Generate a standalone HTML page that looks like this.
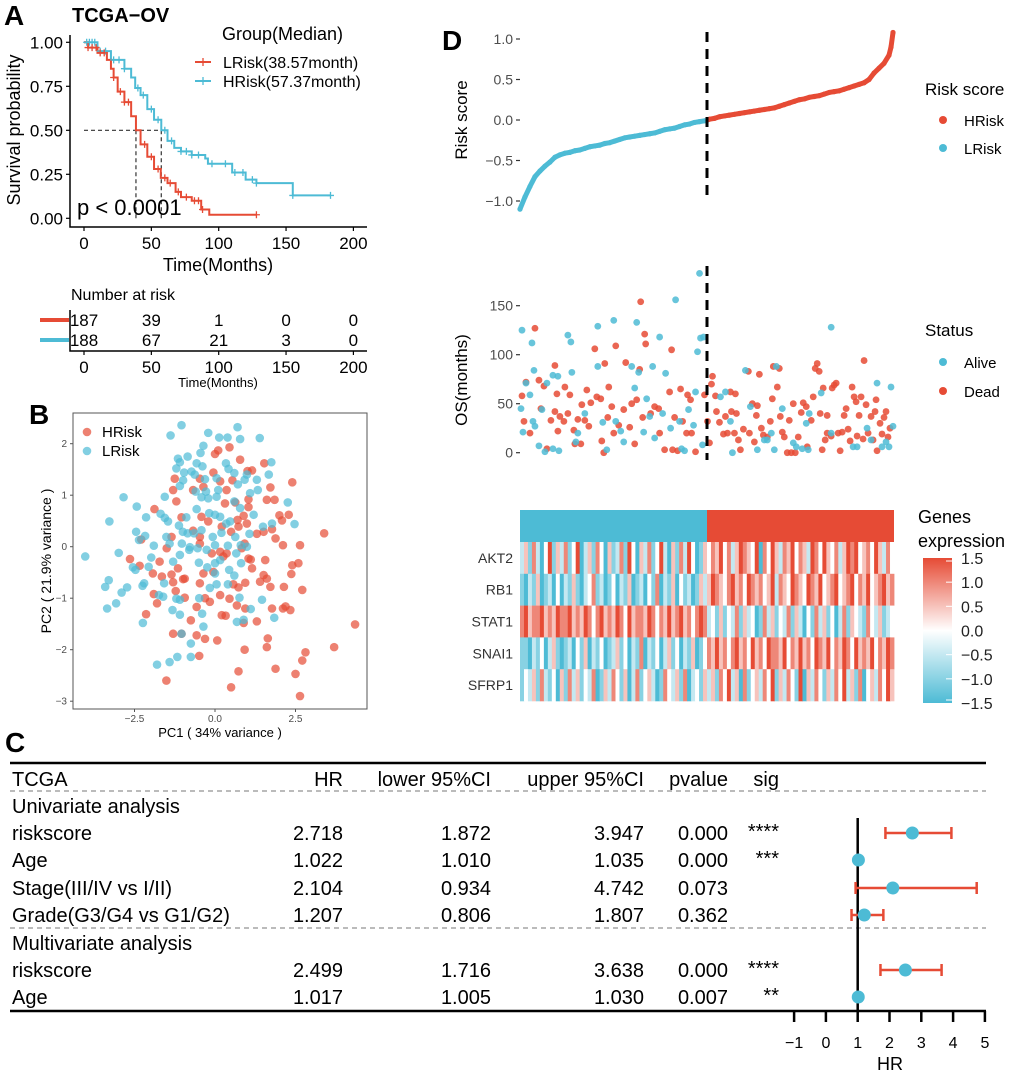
<!DOCTYPE html>
<html><head><meta charset="utf-8"><style>
html,body{margin:0;padding:0;background:#fff;}
svg{display:block;font-family:"Liberation Sans",Arial,sans-serif;}
</style></head><body>
<svg id="fig" width="1020" height="1075" xmlns="http://www.w3.org/2000/svg">
<defs>
<linearGradient id="cbar" x1="0" y1="1" x2="0" y2="0">
<stop offset="0" stop-color="#4DBBD5"/><stop offset="0.5" stop-color="#ffffff"/><stop offset="1" stop-color="#E64B35"/>
</linearGradient>
</defs>
<text x="4" y="25" font-size="28" font-weight="bold">A</text>
<text x="72" y="22" font-size="20" font-weight="bold">TCGA−OV</text>
<text x="222" y="40" font-size="18">Group(Median)</text>
<line x1="195" y1="62" x2="211" y2="62" stroke="#E64B35" stroke-width="2"/>
<text x="223" y="68" font-size="16">LRisk(38.57month)</text>
<line x1="195" y1="81" x2="211" y2="81" stroke="#4DBBD5" stroke-width="2"/>
<text x="223" y="87" font-size="16">HRisk(57.37month)</text>
<text transform="translate(20,130) rotate(-90)" text-anchor="middle" font-size="18">Survival probability</text>
<text x="218" y="271" text-anchor="middle" font-size="18">Time(Months)</text>
<g id="kmAxes"></g>
<g id="kmMarks"></g>
<text x="77" y="215" font-size="22">p &lt; 0.0001</text>
<text x="71" y="300" font-size="16">Number at risk</text>
<g id="riskTable"></g>
<text x="218" y="387" text-anchor="middle" font-size="13">Time(Months)</text>
<text x="29" y="424" font-size="28" font-weight="bold">B</text>
<rect x="73" y="413" width="294" height="296" fill="none" stroke="#555" stroke-width="1"/>
<g id="pca"></g>
<circle cx="87" cy="432" r="4.3" fill="#E64B35" fill-opacity="0.7"/>
<text x="102" y="437" font-size="15">HRisk</text>
<circle cx="87" cy="451" r="4.3" fill="#4DBBD5" fill-opacity="0.7"/>
<text x="102" y="456" font-size="15">LRisk</text>
<text x="220" y="737" text-anchor="middle" font-size="13">PC1 ( 34% variance )</text>
<text transform="translate(51,561) rotate(-90)" text-anchor="middle" font-size="14">PC2 ( 21.9% variance )</text>
<text x="442" y="50" font-size="28" font-weight="bold">D</text>
<text transform="translate(467,120) rotate(-90)" text-anchor="middle" font-size="17">Risk score</text>
<text transform="translate(467,380) rotate(-90)" text-anchor="middle" font-size="17">OS(months)</text>
<g id="riskPlot"></g>
<g id="osPlot"></g>
<text x="925" y="95" font-size="17">Risk score</text>
<circle cx="943" cy="120" r="4" fill="#E64B35"/>
<text x="964" y="126" font-size="15">HRisk</text>
<circle cx="943" cy="148" r="4" fill="#4DBBD5"/>
<text x="964" y="154" font-size="15">LRisk</text>
<text x="925" y="336" font-size="17">Status</text>
<circle cx="943" cy="362" r="4" fill="#4DBBD5"/>
<text x="964" y="368" font-size="15">Alive</text>
<circle cx="943" cy="391" r="4" fill="#E64B35"/>
<text x="964" y="397" font-size="15">Dead</text>
<g id="heat"></g>
<text x="918" y="523" font-size="18">Genes</text>
<text x="918" y="547" font-size="18">expression</text>
<rect x="923" y="558" width="29" height="145" fill="url(#cbar)"/>
<g id="cbarTicks"></g>
<text x="5" y="752" font-size="28" font-weight="bold">C</text>
<g id="forest"></g>
</svg>
<script>
// ---------- Panel A data ----------
var kmRedT = [0,3,10,17,20,22,25,30,35,38.57,42,47,52,57,62,68,72,80,87,93,128];
var kmRedS = [1,0.97,0.94,0.9,0.85,0.8,0.72,0.66,0.58,0.5,0.42,0.35,0.28,0.23,0.2,0.15,0.12,0.1,0.05,0.02,0.02];
var kmBlueT = [0,10,20,30,35,38,42,47,52,57.37,62,67,72,80,90,92,110,120,128,155,183];
var kmBlueS = [1,0.95,0.9,0.85,0.8,0.74,0.7,0.62,0.56,0.5,0.44,0.4,0.38,0.36,0.34,0.31,0.26,0.22,0.2,0.13,0.13];
var kmRedCens = [3,6,9,12,15,22,27,30,33,45,50,55,60,64,70,76,82,85,88,128];
var kmBlueCens = [2,4,6,8,12,16,22,26,30,40,44,50,55,60,65,72,76,80,85,95,105,112,118,125,128,155,183];
var medianRed = 38.57, medianBlue = 57.37;
var kmXTicks = [0,50,100,150,200];
var kmYTicks = [0,0.25,0.5,0.75,1];
var kmYTickLabels = ["0.00","0.25","0.50","0.75","1.00"];
var riskRed = [187,39,1,0,0];
var riskBlue = [188,67,21,3,0];

// ---------- Panel B data ----------
var pcaHx = [-1.25,-1.3,-1.2,-1.88,-1.04,-1.35,-1.5,-2.29,-2.64,-2.34,-1.72,-1.93,-1.65,-1.35,-1.15,-1.3,-1.22,-1.9,-1.8,-2.14,-0.99,-0.94,-1.3,-1.04,-1.51,-0.75,-0.57,-0.57,-0.31,-0.49,0.07,-0.31,-0.16,-0.47,-0.36,-0.1,0.16,0.36,0.26,-0.05,0.16,0.33,0.21,0.5,0.73,0.92,0.89,0.68,0.94,0.73,0.94,0.57,0.45,1.3,1.4,1.51,1.56,1.61,1.72,1.77,1.88,1.61,1.64,2.11,2.19,2.34,2.14,2.37,2.4,2.59,2.71,2.64,2.11,1.88,1.77,1.51,1.3,2.08,2.29,2.0,1.85,1.61,1.72,2.4,1.53,1.15,1.01,0.78,0.54,0.16,0.36,-0.05,0.45,0.1,0,1.04,1.04,0.63,0.31,0.7,0.99,0.89,0.73,0.5,0.21,-0.21,-0.42,-0.68,-0.47,-0.47,-0.68,-0.36,-0.47,0.92,1.04,0.83,1.11,1.15,-0.94,3.39,3.7,4.35,2.81,2.71,2.5,2.64];
var pcaHy = [1.32,1.1,0.88,0.73,0.57,0.19,-0.03,0.14,-0.24,-0.37,-0.29,-0.52,-0.58,-0.54,-0.42,-0.69,-0.86,-0.92,-1.1,-1.31,-0.63,-0.99,-1.69,-1.69,-2.6,-1.43,-1.17,-1.72,-1.79,-2.12,-1.82,-1.0,-1.07,-0.71,-0.52,-0.13,-0.1,-0.13,-0.19,-0.49,-0.94,-1.34,-1.33,-2.73,-2.42,-2.0,-1.48,-1.14,-1.2,-0.79,-0.7,-0.73,-1.01,-1.45,-0.68,-0.55,-0.26,-0.62,-0.78,-1.2,-2.37,-1.95,-1.78,-1.2,-1.16,-1.23,-0.78,-0.53,-0.36,-0.32,-0.84,0.03,0.03,0.16,0.34,0.29,0.25,0.51,0.62,0.61,0.91,0.91,1.15,1.25,1.62,1.48,1.47,1.69,1.29,1.27,1.1,1.44,1.93,1.87,1.8,0.77,0.92,0.86,0.84,0.52,0.45,0.6,0.39,0.29,0.39,0.49,0.58,0.31,0.06,0.19,1.1,1.16,1.32,0.06,-0.23,-0.03,-0.25,-0.42,-0.62,0.26,-1.95,-1.51,-2.05,-2.21,-2.47,-2.9];
var pcaLx = [-4.03,-3.28,-2.84,-2.43,-2.14,-2.45,-2.36,-2.17,-1.9,-2.99,-2.55,-2.47,-1.98,-2.06,-3.3,-3.41,-2.73,-2.9,-2.2,-2.25,-3.07,-3.35,-2.24,-1.74,-1.61,-1.58,-1.32,-1.09,-1.09,-1.2,-1.04,-1.8,-1.41,-1.17,-0.75,-0.75,-0.36,-0.4,-0.49,-0.16,0.05,0.4,0.6,0.44,0.81,0.76,0.68,0.89,1.11,1.46,1.84,-0.5,-0.24,0,0.16,0,-1.3,-1.09,-0.8,-1.03,-1.41,-1.51,-1.46,-1.69,-1.56,-1.12,-1.0,-0.89,-0.57,-0.85,-0.65,-0.42,-0.26,-0.07,0.2,0.35,0.47,0,-0.18,0.16,0.63,0.8,0.99,1.07,1.2,1.49,1.77,2.47,2.26,1.33,1.3,1.67,1.75,1.39,0.7,0.78,0.39,0.13,-0.21,-1.04,-1.38,-0.36,-0.45,-0.85,-1.15,-1.09,-0.57,-0.39,-1.2,-0.96,-0.73,-0.63,-0.31,0.05,0.34,0.42,0.6,0.99,0.92,0.71,0.1,0.05,-0.28,-0.42,-0.21,-0.6,-1.09,-0.99,-1.56,0.78,0.6,1.09,0,0.4,0.66,-0.78,-0.54];
var pcaLy = [-0.19,0.49,0.96,0.78,0.57,0.29,0.13,0.21,0.02,-0.12,-0.4,-0.45,-0.21,-0.39,-0.65,-0.78,-0.79,-0.89,-0.71,-0.76,-1.1,-1.2,-1.48,-0.94,-0.97,-0.71,-1.23,-1.32,-1.03,-1.01,-1.69,-2.29,-2.24,-2.14,-1.88,-2.14,-1.55,-1.3,-1.0,-0.8,-0.73,-0.73,-0.56,-0.45,-0.32,-0.99,-1.46,-1.42,-1.21,-1.03,-1.38,-0.31,-0.4,-0.52,-0.26,-0.32,-0.29,-0.16,-0.06,0.06,0.06,0.19,0.49,0.64,0.56,0.41,0.29,0.57,0.73,0.26,0.26,0.32,-0.06,0.19,0.27,0.45,0.49,0.62,0.65,0.58,0.19,0.03,0,0.25,0.62,0.39,0.45,0.44,0.86,1.1,1.3,1.4,1.64,2.11,2.32,2.09,2.12,2.12,2.21,2.36,2.16,1.96,1.82,1.75,1.71,1.64,1.62,1.56,1.52,1.44,1.46,1.4,1.31,1.33,1.62,1.51,1.43,1.4,1.3,1.21,1.1,0.97,1.07,0.96,0.94,1.07,1.18,1.29,0.97,0.75,0.88,1.04,0.03,0.02,-0.13,-0.01,-0.03];
var pcaXTicks = [-2.5,0,2.5];
var pcaXTickLabels = ["-2.5","0.0","2.5"];
var pcaYTicks = [2,1,0,-1,-2,-3];

// ---------- Panel D data ----------
var riskRanks = [0,5,10,15,20,25,30,35,40,45,50,55,60,65,70,75,80,85,90,95,100,105,110,115,120,125,130,135,140,145,150,155,160,165,170,175,180,185,190,195,200,205,210,215,220,225,230,235,240,245,250,255,260,265,270,275,280,285,290,295,300,305,310,315,320,325,330,335,340,345,350,355,360,365,370,372,374];
var riskScores = [-1.10,-0.95,-0.82,-0.70,-0.63,-0.57,-0.52,-0.46,-0.43,-0.41,-0.40,-0.38,-0.37,-0.35,-0.33,-0.32,-0.31,-0.29,-0.28,-0.26,-0.24,-0.22,-0.21,-0.20,-0.19,-0.18,-0.17,-0.16,-0.14,-0.12,-0.11,-0.10,-0.08,-0.06,-0.05,-0.03,-0.02,-0.01,0.01,0.02,0.04,0.05,0.06,0.07,0.08,0.09,0.10,0.11,0.12,0.13,0.14,0.15,0.17,0.19,0.21,0.23,0.25,0.26,0.28,0.29,0.30,0.32,0.34,0.35,0.36,0.38,0.40,0.42,0.44,0.46,0.50,0.58,0.64,0.70,0.80,0.90,1.08];
var cutRank = 187;
var riskYTicks = [1,0.5,0,-0.5,-1];
var riskYTickLabels = ["1.0","0.5","0.0","-0.5","-1.0"];
var aliveRank = [1,2,3,6,10,12,14,13,15,19,22,25,27,33,33,38,39,48,51,52,56,58,65,78,78,83,87,94,96,101,104,112,115,117,119,124,127,130,133,135,140,143,146,151,156,160,162,165,169,174,176,178,180,181,183,184,201,206,211,213,226,231,238,245,248,252,255,257,263,274,277,283,287,289,290,302,312,312,334,338,348,352,358,363,367,370,372,374];
var aliveOS = [45,125,21,71,59,112,84,32,27,7,44,1,71,79,4,78,2,120,113,82,11,20,40,129,88,31,3,135,32,22,11,88,66,133,82,21,55,37,88,15,118,40,81,25,156,32,4,2,44,28,62,103,183,117,8,118,57,62,32,0,84,47,3,13,13,20,3,88,45,10,6,4,30,3,40,61,128,20,6,6,25,13,71,6,11,6,67,27];
var deadRank = [2,4,6,10,15,19,21,24,27,31,35,35,37,38,40,44,45,48,50,54,55,58,61,62,65,67,69,71,75,77,81,82,84,85,88,89,92,94,96,99,104,106,110,112,115,117,120,121,123,125,126,131,135,139,140,145,150,153,152,155,158,161,163,167,168,171,172,176,185,188,190,192,193,196,197,200,204,206,208,211,212,215,216,217,219,221,224,229,230,233,235,237,238,240,242,244,248,251,253,254,258,260,261,263,265,268,270,272,274,276,279,282,284,287,288,292,294,296,298,300,301,303,304,306,308,308,312,313,315,317,319,321,323,325,327,329,331,333,335,337,338,340,342,344,345,347,349,352,354,356,357,358,361,363,365,367,369,371];
var deadOS = [58,32,72,20,127,74,45,68,4,33,42,89,60,22,37,32,67,40,59,23,9,34,9,49,33,64,27,51,106,57,55,12,0,91,36,67,47,20,109,28,44,92,26,50,9,54,85,154,36,121,111,40,47,45,20,3,62,3,105,36,2,65,32,20,59,54,20,1,59,32,10,70,78,58,42,31,19,37,20,62,42,20,60,40,13,3,24,83,20,50,11,38,48,80,25,18,16,32,55,88,67,86,37,21,16,0,33,0,50,0,16,41,51,47,6,33,57,86,91,83,40,3,66,13,38,20,17,66,69,71,20,2,21,38,45,24,12,67,57,52,17,38,57,14,94,49,20,37,13,42,54,2,30,19,36,42,16,25];
var osYTicks = [150,100,50,0];
var genes = ["AKT2","RB1","STAT1","SNAI1","SFRP1"];
var exprCodes = [
 "24152036142513602415304125163042513620415263014"+"35463524654360536425463542653643524656345364253",
 "10214012030214102351201302140120315021403120142"+"46543564536545346254365436546345634563546345645",
 "56455645465564546535645465364554653546456453565"+"23141325142301524132514203152413025143215324123",
 "11021302410120314021301241302150213024130214013"+"54645356453645365546354645365463546536454635465",
 "13241521304152413250142531402513420153241502314"+"24153624051342536142531604253142536241503425364"
];
var cbarTicks = [1.5,1,0.5,0,-0.5,-1,-1.5];
var cbarTickLabels = ["1.5","1.0","0.5","0.0","-0.5","-1.0","-1.5"];

// ---------- Panel C data ----------
var forestLabels = ["riskscore","Age","Stage(III/IV vs I/II)","Grade(G3/G4 vs G1/G2)","riskscore","Age"];
var forestHR = [2.718,1.022,2.104,1.207,2.499,1.017];
var forestLower = [1.872,1.010,0.934,0.806,1.716,1.005];
var forestUpper = [3.947,1.035,4.742,1.807,3.638,1.030];
var forestP = ["0.000","0.000","0.073","0.362","0.000","0.007"];
var forestSig = ["****","***","","","****","**"];
var forestTicks = [-1,0,1,2,3,4,5];

var NS = "http://www.w3.org/2000/svg";
function el(tag, attrs, parent, txt){
  var e = document.createElementNS(NS, tag);
  for (var k in attrs) e.setAttribute(k, attrs[k]);
  if (txt !== undefined) e.textContent = txt;
  parent.appendChild(e);
  return e;
}
function G(id){return document.getElementById(id);}
var RED="#E64B35", BLUE="#4DBBD5";

// ===== Panel A =====
var xA = function(t){return 84 + t*1.347;};
var yA = function(s){return 218.3 - s*176;};
(function(){
  var g = G("kmAxes"), e;
  e = el("path",{d:"M70 35 V227 H367",fill:"none",stroke:"#000","stroke-width":1.5},g);
  
  
  kmYTicks.forEach(function(v,i){
    e = el("line",{x1:66,x2:70,y1:yA(v),y2:yA(v),stroke:"#000","stroke-width":1.2},g);
    
    
    e = el("text",{x:63,y:yA(v)+6,"text-anchor":"end","font-size":17},g,kmYTickLabels[i]);
    
    
  });
  kmXTicks.forEach(function(v){
    e = el("line",{x1:xA(v),x2:xA(v),y1:227,y2:231,stroke:"#000","stroke-width":1.2},g);
    
    
    e = el("text",{x:xA(v),y:249,"text-anchor":"middle","font-size":17},g,String(v));
    
    
  });
  var m = G("kmMarks");
  function step(T,S){var d="M"+xA(T[0])+" "+yA(S[0]);for(var i=1;i<T.length;i++){d+=" H"+xA(T[i])+" V"+yA(S[i]);}return d;}
  function survAt(T,S,t){var s=S[0];for(var i=0;i<T.length;i++){if(T[i]<=t)s=S[i];}return s;}
  e = el("path",{d:"M"+xA(0)+" "+yA(0.5)+" H"+xA(medianBlue)+" M"+xA(medianRed)+" "+yA(0.5)+" V"+yA(0)+" M"+xA(medianBlue)+" "+yA(0.5)+" V"+yA(0),fill:"none",stroke:"#333","stroke-width":1.2,"stroke-dasharray":"4,3"},m);
  
  
  e = el("path",{d:step(kmBlueT,kmBlueS),fill:"none",stroke:BLUE,"stroke-width":2},m);
  
  
  e = el("path",{d:step(kmRedT,kmRedS),fill:"none",stroke:RED,"stroke-width":2},m);
  
  
  function cens(T,S,C,col,name){
    C.forEach(function(t){
      var x=xA(t), y=yA(survAt(T,S,t));
      var c = el("path",{d:"M"+(x-3.5)+" "+y+" H"+(x+3.5)+" M"+x+" "+(y-3.5)+" V"+(y+3.5),stroke:col,"stroke-width":1.3},m);
      
      
    });
  }
  cens(kmBlueT,kmBlueS,kmBlueCens,BLUE,'km-censor-hrisk');
  cens(kmRedT,kmRedS,kmRedCens,RED,'km-censor-lrisk');
  e = el("path",{d:"M203 58 V66",stroke:RED,"stroke-width":1.3},m);
  
  
  e = el("path",{d:"M203 77 V85",stroke:BLUE,"stroke-width":1.3},m);
  
  
  var r = G("riskTable");
  e = el("path",{d:"M70 310 V351 H367",fill:"none",stroke:"#000","stroke-width":1.5},r);
  
  
  e = el("line",{x1:40,x2:69,y1:320,y2:320,stroke:RED,"stroke-width":4},r);
  
  
  e = el("line",{x1:40,x2:69,y1:340,y2:340,stroke:BLUE,"stroke-width":4},r);
  
  
  kmXTicks.forEach(function(v,i){
    e = el("text",{x:xA(v),y:326,"text-anchor":"middle","font-size":17},r,String(riskRed[i]));
    
    
    e = el("text",{x:xA(v),y:346,"text-anchor":"middle","font-size":17},r,String(riskBlue[i]));
    
    
    e = el("line",{x1:xA(v),x2:xA(v),y1:351,y2:355,stroke:"#000","stroke-width":1.2},r);
    
    
    e = el("text",{x:xA(v),y:373,"text-anchor":"middle","font-size":17},r,String(v));
    
    
  });
})();

// ===== Panel B =====
var xB = function(v){return 215 + v*32.2;};
var yB = function(v){return 546.7 - v*51.5;};
(function(){
  var g = G("pca"), e;
  pcaXTicks.forEach(function(v,i){
    e = el("line",{x1:xB(v),x2:xB(v),y1:709,y2:712,stroke:"#555"},g);
    
    
    e = el("text",{x:xB(v),y:722,"text-anchor":"middle","font-size":10,fill:"#4d4d4d"},g,pcaXTickLabels[i].replace("-","−"));
    
    
  });
  pcaYTicks.forEach(function(v){
    e = el("line",{x1:70,x2:73,y1:yB(v),y2:yB(v),stroke:"#555"},g);
    
    
    e = el("text",{x:67,y:yB(v)+3.5,"text-anchor":"end","font-size":10,fill:"#4d4d4d"},g,String(v).replace("-","−"));
    
    
  });
  pcaHx.forEach(function(v,i){
    e = el("circle",{cx:xB(v),cy:yB(pcaHy[i]),r:4.3,fill:RED,"fill-opacity":0.7},g);
    
    
  });
  pcaLx.forEach(function(v,i){
    e = el("circle",{cx:xB(v),cy:yB(pcaLy[i]),r:4.3,fill:BLUE,"fill-opacity":0.7},g);
    
    
  });
})();

// ===== Panel D =====
var xD = function(r){return 520 + r*(374/375);};
var yR = function(v){return 120 - v*81;};
var yO = function(m){return 452.7 - m*0.98;};
(function(){
  var g = G("riskPlot"), e;
  riskYTicks.forEach(function(v,i){
    e = el("line",{x1:516,x2:520,y1:yR(v),y2:yR(v),stroke:"#333","stroke-width":1.2},g);
    
    
    e = el("text",{x:513,y:yR(v)+5,"text-anchor":"end","font-size":14,fill:"#4d4d4d"},g,riskYTickLabels[i].replace("-","−"));
    
    
  });
  var dl="",dh="";
  riskRanks.forEach(function(r,i){
    var seg = xD(r)+" "+yR(riskScores[i]);
    if(r<=cutRank){dl += (dl?" L":"M")+seg;} else {dh += (dh?" L":"M")+seg;}
  });
  dh = "M"+xD(cutRank+1)+" "+yR(0)+" L"+dh.substring(1);
  e = el("path",{d:dl,fill:"none",stroke:BLUE,"stroke-width":5,"stroke-linecap":"round","stroke-linejoin":"round"},g);
  
  
  e = el("path",{d:dh,fill:"none",stroke:RED,"stroke-width":5,"stroke-linecap":"round","stroke-linejoin":"round"},g);
  
  
  riskRanks.forEach(function(r,i){
    e = el("circle",{cx:xD(r),cy:yR(riskScores[i]),r:2.6,fill:(r<=cutRank?BLUE:RED)},g);
    
    
  });
  e = el("line",{x1:xD(cutRank+0.5),x2:xD(cutRank+0.5),y1:32,y2:202,stroke:"#000","stroke-width":3,"stroke-dasharray":"10,7"},g);
  
  

  var o = G("osPlot");
  osYTicks.forEach(function(v){
    e = el("line",{x1:516,x2:520,y1:yO(v),y2:yO(v),stroke:"#333","stroke-width":1.2},o);
    
    
    e = el("text",{x:513,y:yO(v)+5,"text-anchor":"end","font-size":14,fill:"#4d4d4d"},o,String(v));
    
    
  });
  deadRank.forEach(function(r,i){
    e = el("circle",{cx:xD(r),cy:yO(deadOS[i]),r:3.4,fill:RED,"fill-opacity":0.85},o);
    
    
  });
  aliveRank.forEach(function(r,i){
    e = el("circle",{cx:xD(r),cy:yO(aliveOS[i]),r:3.4,fill:BLUE,"fill-opacity":0.85},o);
    
    
  });
  e = el("line",{x1:xD(cutRank+0.5),x2:xD(cutRank+0.5),y1:266,y2:460,stroke:"#000","stroke-width":3,"stroke-dasharray":"10,7"},o);
  
  

  var h = G("heat");
  e = el("rect",{x:520,y:510,width:xD(cutRank+0.5)-520,height:32,fill:BLUE},h);
  
  
  e = el("rect",{x:xD(cutRank+0.5),y:510,width:894-xD(cutRank+0.5),height:32,fill:RED},h);
  
  
  function col(v){
    var t, b;
    if(v<0){t=Math.min(1,-v/1.5);b=[77,187,213];}
    else {t=Math.min(1,v/1.5);b=[230,75,53];}
    return "rgb("+Math.round(255+(b[0]-255)*t)+","+Math.round(255+(b[1]-255)*t)+","+Math.round(255+(b[2]-255)*t)+")";
  }
  var rowH = 31.8;
  genes.forEach(function(gn,gi){
    var codes = exprCodes[gi], n = codes.length, w = 374/n;
    var y0 = 542 + gi*rowH;
    for(var j=0;j<n;j++){
      var v = (parseInt(codes[j],10)-3)*0.5;
      var c = el("rect",{x:520+j*w,y:y0,width:w+0.4,height:rowH+0.3,fill:col(v)},h);
      
      
    }
    var t = el("text",{x:513,y:y0+rowH/2+5,"text-anchor":"end","font-size":14,fill:"#333"},h,gn);
    
    
  });
  var cb = G("cbarTicks");
  cbarTicks.forEach(function(v,i){
    var y = 703 - (v+1.5)/3*145;
    var y2 = Math.min(700,Math.max(561,y));
    var c = el("line",{x1:946,x2:952,y1:y2,y2:y2,stroke:"#fff","stroke-width":1},cb);
    
    
    c = el("text",{x:961,y:y+6,"font-size":16,fill:"#222"},cb,cbarTickLabels[i].replace("-","−"));
    
    
  });
})();

// ===== Panel C =====
var xF = function(v){return 857.7 + (v-1)*31.8;};
(function(){
  var g = G("forest"), e;
  e = el("line",{x1:10,x2:986,y1:763,y2:763,stroke:"#000","stroke-width":2.5},g);
  
  
  e = el("line",{x1:10,x2:986,y1:1011,y2:1011,stroke:"#000","stroke-width":2.5},g);
  
  
  [791,928].forEach(function(y){
    e = el("line",{x1:10,x2:986,y1:y,y2:y,stroke:"#777","stroke-width":1,"stroke-dasharray":"5,4"},g);
    
    
  });
  var hdr = [["TCGA",12,"start"],["HR",343,"end"],["lower 95%CI",491,"end"],["upper 95%CI",644,"end"],["pvalue",728,"end"],["sig",779,"end"]];
  hdr.forEach(function(hh){
    e = el("text",{x:hh[1],y:786,"text-anchor":hh[2],"font-size":20},g,hh[0]);
    
    
  });
  e = el("text",{x:12,y:813,"font-size":20},g,"Univariate analysis");
  
  
  e = el("text",{x:12,y:950,"font-size":20},g,"Multivariate analysis");
  
  
  var ys = [840,867,895,922,977,1004];
  e = el("line",{x1:xF(1),x2:xF(1),y1:818,y2:1011,stroke:"#000","stroke-width":2.5},g);
  
  
  forestLabels.forEach(function(lab,i){
    var y = ys[i];
    e = el("text",{x:12,y:y,"font-size":20},g,lab);
    
    
    e = el("text",{x:343,y:y,"text-anchor":"end","font-size":20},g,forestHR[i].toFixed(3));
    
    
    e = el("text",{x:491,y:y,"text-anchor":"end","font-size":20},g,forestLower[i].toFixed(3));
    
    
    e = el("text",{x:644,y:y,"text-anchor":"end","font-size":20},g,forestUpper[i].toFixed(3));
    
    
    e = el("text",{x:728,y:y,"text-anchor":"end","font-size":20},g,forestP[i]);
    
    
    if(forestSig[i]){
      e = el("text",{x:779,y:y-2,"text-anchor":"end","font-size":20},g,forestSig[i]);
      
      
    }
    var cy = y-7;
    e = el("path",{d:"M"+xF(forestLower[i])+" "+cy+" H"+xF(forestUpper[i])+" M"+xF(forestLower[i])+" "+(cy-6)+" V"+(cy+6)+" M"+xF(forestUpper[i])+" "+(cy-6)+" V"+(cy+6),stroke:RED,"stroke-width":2.5,fill:"none"},g);
    
    
    e = el("circle",{cx:xF(forestHR[i]),cy:cy,r:6.5,fill:BLUE},g);
    
    
  });
  forestTicks.forEach(function(v){
    e = el("line",{x1:xF(v),x2:xF(v),y1:1011,y2:1022,stroke:"#000","stroke-width":2.5},g);
    
    
    e = el("text",{x:xF(v),y:1048,"text-anchor":"middle","font-size":16},g,String(v).replace("-","−"));
    
    
  });
  e = el("text",{x:890,y:1070,"text-anchor":"middle","font-size":18},g,"HR");
  
  
})();
</script>
</body></html>
